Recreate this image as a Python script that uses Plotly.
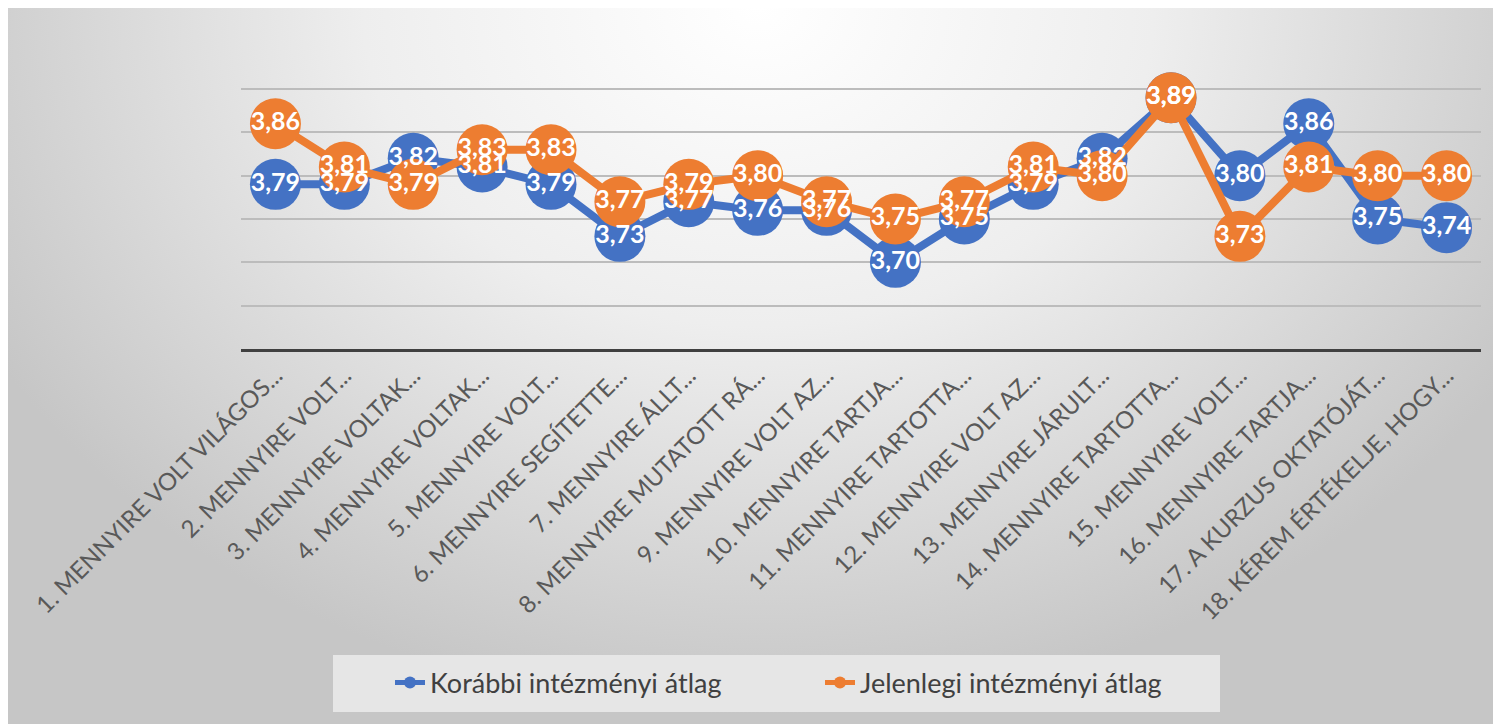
import plotly.graph_objects as go
import urllib.parse

categories = [
    "1. MENNYIRE VOLT VILÁGOS...",
    "2. MENNYIRE VOLT...",
    "3. MENNYIRE VOLTAK...",
    "4. MENNYIRE VOLTAK...",
    "5. MENNYIRE VOLT...",
    "6. MENNYIRE SEGÍTETTE...",
    "7. MENNYIRE ÁLLT...",
    "8. MENNYIRE MUTATOTT RÁ...",
    "9. MENNYIRE VOLT AZ...",
    "10. MENNYIRE TARTJA...",
    "11. MENNYIRE TARTOTTA...",
    "12. MENNYIRE VOLT AZ...",
    "13. MENNYIRE JÁRULT...",
    "14. MENNYIRE TARTOTTA...",
    "15. MENNYIRE VOLT...",
    "16. MENNYIRE TARTJA...",
    "17. A KURZUS OKTATÓJÁT...",
    "18. KÉREM ÉRTÉKELJE, HOGY...",
]
korabbi = [3.79, 3.79, 3.82, 3.81, 3.79, 3.73, 3.77, 3.76, 3.76, 3.70,
           3.75, 3.79, 3.82, 3.89, 3.80, 3.86, 3.75, 3.74]
jelenlegi = [3.86, 3.81, 3.79, 3.83, 3.83, 3.77, 3.79, 3.80, 3.77, 3.75,
             3.77, 3.81, 3.80, 3.89, 3.73, 3.81, 3.80, 3.80]
series_names = ["Korábbi intézményi átlag", "Jelenlegi intézményi átlag"]

BLUE = "#4472C4"
ORANGE = "#ED7D31"

W, H = 1501, 724
L, R, T, B = 233, 28, 78, 383
pw, ph = W - L - R, H - T - B

def fmt(v):
    return f"{v:.2f}".replace(".", ",")

def px_x(x):
    return (x - L) / pw

def px_y(y):
    return (H - B - y) / ph

fig = go.Figure()
for name, vals, col in [(series_names[0], korabbi, BLUE), (series_names[1], jelenlegi, ORANGE)]:
    fig.add_trace(go.Scatter(
        x=categories, y=vals, name=name, mode="lines+markers",
        line=dict(color=col, width=8),
        marker=dict(color=col, size=51, line=dict(width=0)),
        cliponaxis=False, hoverinfo="skip",
    ))
for vals in [korabbi, jelenlegi]:
    fig.add_trace(go.Scatter(
        x=categories, y=vals, mode="text", text=[fmt(v) for v in vals],
        textposition="middle center",
        textfont=dict(family="Lato", size=25, color="white", weight="bold"),
        cliponaxis=False, showlegend=False, hoverinfo="skip",
    ))

svg = (
    '<svg xmlns="http://www.w3.org/2000/svg" width="1501" height="724" preserveAspectRatio="none">'
    '<defs><radialGradient id="g" cx="50%" cy="0%" r="75%" gradientUnits="objectBoundingBox" '
    'gradientTransform="translate(0.5,0) scale(0.78,1.3) translate(-0.5,0)">'
    '<stop offset="0%" stop-color="#ffffff"/>'
    '<stop offset="45%" stop-color="#eeeeee"/>'
    '<stop offset="100%" stop-color="#c6c6c6"/>'
    '</radialGradient></defs>'
    '<rect width="1501" height="724" fill="url(#g)"/></svg>'
)
src = "data:image/svg+xml;charset=utf-8," + urllib.parse.quote(svg)

fig.add_layout_image(dict(
    source=src, xref="paper", yref="paper",
    x=px_x(0), y=px_y(0),
    sizex=W / pw, sizey=H / ph,
    xanchor="left", yanchor="top", sizing="stretch", layer="below",
))

# legend box
fig.add_shape(type="rect", xref="paper", yref="paper",
              x0=px_x(325), x1=px_x(1212), y0=px_y(647), y1=px_y(704),
              fillcolor="#e6e6e6", line=dict(width=0), layer="below")

fig.update_layout(
    width=W, height=H,
    margin=dict(l=L, r=R, t=T, b=B, autoexpand=False),
    paper_bgcolor="white", plot_bgcolor="rgba(0,0,0,0)",
    font=dict(family="Lato", color="#595959"),
    showlegend=True,
    legend=dict(
        orientation="h", xanchor="left", yanchor="middle",
        x=px_x(382), y=px_y(675),
        bgcolor="rgba(0,0,0,0)", borderwidth=0,
        font=dict(family="Lato", size=27, color="#404040"),
        entrywidth=385, itemsizing="constant",
    ),
    xaxis=dict(
        type="category", showgrid=False, showline=True, linecolor="#404040",
        linewidth=3, ticks="", tickangle=-45,
        tickfont=dict(family="Lato", size=24, color="#595959"),
        range=[-0.5, len(categories) - 0.5],
    ),
    yaxis=dict(
        range=[3.6, 3.9035], dtick=0.05, showticklabels=False, showgrid=True,
        gridcolor="#bcbcbc", gridwidth=2, zeroline=False, showline=False, ticks="",
    ),
)

fig.write_html("out.html")
